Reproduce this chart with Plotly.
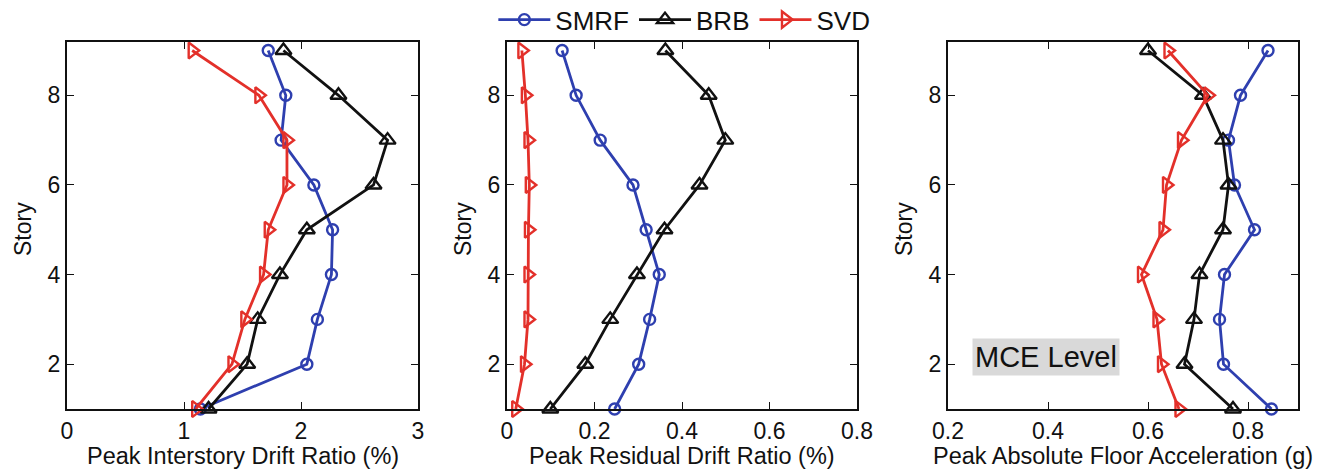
import plotly.graph_objects as go

# Story levels (1 = ground floor response location)
stories = [9, 8, 7, 6, 5, 4, 3, 2, 1]

# Peak interstory drift ratio (%)
drift_smrf = [1.72, 1.87, 1.83, 2.11, 2.27, 2.26, 2.14, 2.05, 1.14]
drift_brb = [1.85, 2.32, 2.74, 2.62, 2.05, 1.82, 1.63, 1.54, 1.21]
drift_svd = [1.07, 1.64, 1.88, 1.88, 1.72, 1.68, 1.52, 1.41, 1.10]

# Peak residual drift ratio (%)
resid_smrf = [0.126, 0.158, 0.213, 0.288, 0.318, 0.348, 0.326, 0.301, 0.246]
resid_brb = [0.362, 0.461, 0.499, 0.440, 0.360, 0.297, 0.236, 0.179, 0.099]
resid_svd = [0.034, 0.042, 0.048, 0.051, 0.049, 0.048, 0.048, 0.040, 0.020]

# Peak absolute floor acceleration (g)
accel_smrf = [0.840, 0.785, 0.761, 0.773, 0.813, 0.753, 0.743, 0.751, 0.847]
accel_brb = [0.600, 0.710, 0.750, 0.761, 0.750, 0.703, 0.692, 0.673, 0.770]
accel_svd = [0.640, 0.720, 0.667, 0.637, 0.630, 0.587, 0.618, 0.627, 0.662]

x_titles = ["Peak Interstory Drift Ratio (%)",
            "Peak Residual Drift Ratio (%)",
            "Peak Absolute Floor Acceleration (g)"]
x_ranges = [[0, 3], [0, 0.8], [0.2, 0.9]]
x_ticks = [[0, 1, 2, 3], [0, 0.2, 0.4, 0.6, 0.8], [0.2, 0.4, 0.6, 0.8]]
x_ticktext = [["0", "1", "2", "3"], ["0", "0.2", "0.4", "0.6", "0.8"],
              ["0.2", "0.4", "0.6", "0.8"]]
y_ticks = [2, 4, 6, 8]

BLUE = "#2E3FAF"
BLACK = "#111111"
RED = "#E3302A"
FONT = "Liberation Sans, Arial, sans-serif"

W, H = 1334, 472
x_px = [(67, 418), (507, 857), (948, 1298)]
y_top, y_bot = 42, 409

series = [
    ("SMRF", BLUE, "circle-open", 11, [drift_smrf, resid_smrf, accel_smrf]),
    ("BRB", BLACK, "triangle-up-open", 14, [drift_brb, resid_brb, accel_brb]),
    ("SVD", RED, "triangle-right-open", 14, [drift_svd, resid_svd, accel_svd]),
]

fig = go.Figure()
for name, color, symbol, size, data in series:
    for i, xs in enumerate(data):
        ax = "" if i == 0 else str(i + 1)
        fig.add_trace(go.Scatter(
            x=xs, y=stories, mode="lines+markers", name=name,
            xaxis="x" + ax, yaxis="y" + ax,
            showlegend=(i == 0), legendgroup=name,
            line=dict(color=color, width=2.8),
            marker=dict(symbol=symbol, size=size, color=color,
                        line=dict(color=color, width=2.4)),
            cliponaxis=False,
        ))

layout = dict(
    width=W, height=H,
    margin=dict(l=0, r=0, t=0, b=0, autoexpand=False),
    paper_bgcolor="white", plot_bgcolor="white",
    font=dict(family=FONT, size=23, color="#111111"),
    legend=dict(orientation="h", x=0.513, xanchor="center", y=1.008,
                yanchor="top", font=dict(size=26, family=FONT),
                itemwidth=52, tracegroupgap=0, bgcolor="rgba(0,0,0,0)"),
    annotations=[],
)

for i in range(3):
    ax = "" if i == 0 else str(i + 1)
    x0, x1 = x_px[i]
    layout["xaxis" + ax] = dict(
        domain=[x0 / W, x1 / W], range=x_ranges[i], anchor="y" + ax,
        tickvals=x_ticks[i], ticktext=x_ticktext[i],
        ticks="inside", ticklen=7, tickwidth=1.2, tickcolor="#111111",
        showline=True, linecolor="#111111", linewidth=2, mirror="ticks",
        showgrid=False, zeroline=False, tickfont=dict(size=23),
    )
    layout["yaxis" + ax] = dict(
        domain=[1 - y_bot / H, 1 - y_top / H], range=[1, 9.19],
        anchor="x" + ax, tickvals=y_ticks,
        ticks="inside", ticklen=7, tickwidth=1.2, tickcolor="#111111",
        showline=True, linecolor="#111111", linewidth=2, mirror="ticks",
        showgrid=False, zeroline=False, tickfont=dict(size=23),
    )
    layout["annotations"].append(dict(
        text=x_titles[i], xref="paper", yref="paper",
        x=(x0 + x1) / 2 / W, y=1 - 456 / H, showarrow=False,
        xanchor="center", yanchor="middle", font=dict(size=23.5),
    ))
    layout["annotations"].append(dict(
        text="Story", xref="paper", yref="paper",
        x=(x0 - 44) / W, y=1 - 229 / H, showarrow=False, textangle=-90,
        xanchor="center", yanchor="middle", font=dict(size=23),
    ))

layout["annotations"].append(dict(
    text="MCE Level", xref="paper", yref="paper",
    x=1046 / W, y=1 - 357 / H, showarrow=False,
    xanchor="center", yanchor="middle", bgcolor="#D9D9D9",
    borderpad=2, font=dict(size=29),
))

fig.update_layout(**layout)
fig.write_html("out.html")
